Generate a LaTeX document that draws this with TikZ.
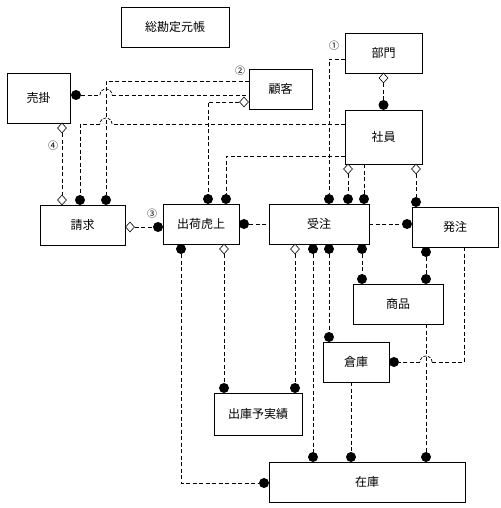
\documentclass[tikz,border=0pt]{standalone}
\usepackage{fontspec}
\setmainfont{Noto Sans CJK JP}
\usetikzlibrary{shapes.geometric}
\begin{document}
\begin{tikzpicture}[x=1pt,y=-1pt,
  ent/.style={draw, line width=0.8pt, inner sep=0pt, font=\fontsize{12}{14}\selectfont},
  conn/.style={dash pattern=on 4pt off 2.5pt, line width=0.7pt},
  hop/.style={line width=0.7pt, dash pattern=on 3pt off 1.5pt},
  dot/.style={circle, fill=black, inner sep=0pt, minimum size=10pt},
  dia/.style={diamond, draw, fill=white, inner sep=0pt, minimum width=9pt, minimum height=10pt, line width=0.6pt},
  num/.style={font=\fontsize{10}{11}\selectfont, inner sep=0pt}]
\useasboundingbox (0,0) rectangle (500,508);

% entities
\node[ent, minimum width=108pt, minimum height=40pt] (gl) at (175,27) {総勘定元帳};
\node[ent, minimum width=63pt, minimum height=50pt] (uk) at (38.5,98) {売掛};
\node[ent, minimum width=63pt, minimum height=40pt] (kk) at (280.5,89) {顧客};
\node[ent, minimum width=77pt, minimum height=40pt] (bm) at (383.5,53) {部門};
\node[ent, minimum width=77pt, minimum height=54pt] (sh) at (383.5,137) {社員};
\node[ent, minimum width=85pt, minimum height=40pt] (sk) at (82.5,225) {請求};
\node[ent, minimum width=76pt, minimum height=40pt] (su) at (201,224) {出荷虎上};
\node[ent, minimum width=100pt, minimum height=40pt] (ju) at (319,224) {受注};
\node[ent, minimum width=86pt, minimum height=40pt] (ha) at (455,227) {発注};
\node[ent, minimum width=90pt, minimum height=40pt] (sp) at (398,304) {商品};
\node[ent, minimum width=66pt, minimum height=40pt] (so) at (356,362) {倉庫};
\node[ent, minimum width=88pt, minimum height=42pt] (yj) at (258,414) {出庫予実績};
\node[ent, minimum width=196pt, minimum height=40pt] (zk) at (367,482) {在庫};

% labels
\node[num] (n1) at (334,46) {①};
\node[num] (n2) at (240,71) {②};
\node[num] (n3) at (152,214) {③};
\node[num] (n4) at (53,146) {④};

% free ends
\coordinate (bmL) at (345,59);
\coordinate (kkA) at (249,81);
\coordinate (kkB) at (249,95);
\coordinate (shA) at (345,124);
\coordinate (shB) at (345,156);
\coordinate (shC) at (364,164);
\coordinate (juR) at (369,224);
\coordinate (haB) at (464,247);
\coordinate (spB) at (426,324);
\coordinate (soB) at (351,382);
\coordinate (hopA1) at (100,95);
\coordinate (hopA2) at (112,95);
\coordinate (hopB1) at (112,124);
\coordinate (hopB2) at (100,124);
\coordinate (hopC1) at (432,362);
\coordinate (hopC2) at (420,362);

% symbols
\node[dia] (bmD) at (383.5,78) {};
\node[dot] (shT) at (383.5,105) {};
\node[dot] (juT1) at (329,199) {};
\node[dot] (juT2) at (348,199) {};
\node[dot] (juT3) at (364,199) {};
\node[dia] (shD1) at (348,169) {};
\node[dia] (shD2) at (416,169) {};
\node[dot] (haT) at (416,202) {};
\node[dot] (ukR) at (76,95) {};
\node[dia] (ukD) at (62,128) {};
\node[dia] (kkD) at (244,102) {};
\node[dia] (skT1) at (62,200) {};
\node[dot] (skT2) at (80,200) {};
\node[dot] (skT3) at (106,200) {};
\node[dot] (suT1) at (208,199) {};
\node[dot] (suT2) at (226,199) {};
\node[dia] (skR) at (130,227) {};
\node[dot] (suL) at (158,227) {};
\node[dot] (suRd) at (244,224) {};
\node[dot] (haL) at (407,224) {};
\node[dot] (suB1) at (181,249) {};
\node[dia] (suB2) at (224,249) {};
\node[dia] (juB1) at (295,249) {};
\node[dot] (juB2) at (313,249) {};
\node[dot] (juB3) at (329,249) {};
\node[dot] (juB4) at (362,249) {};
\node[dot] (haB1) at (426,252) {};
\node[dot] (spT1) at (362,279) {};
\node[dot] (spT2) at (426,279) {};
\node[dot] (soT) at (329,337) {};
\node[dot] (soR) at (394,362) {};
\node[dot] (yjT1) at (224,388) {};
\node[dot] (yjT2) at (295,388) {};
\node[dot] (zkT1) at (313,457) {};
\node[dot] (zkT2) at (351,457) {};
\node[dot] (zkT3) at (426,457) {};
\node[dot] (zkL) at (264,483) {};

% connectors
\draw[conn] (bmD) -- (shT);
\draw[conn] (bmL) -| (juT1);
\draw[conn] (kkA) -| (skT3);
\draw[conn] (ukR) -- (hopA1);
\draw[hop] (hopA1) arc[start angle=180,end angle=0,radius=6pt];
\draw[conn] (hopA2) -- (kkB);
\draw[conn] (kkD) -| (suT1);
\draw[conn] (ukD) -- (skT1);
\draw[conn] (shA) -- (hopB1);
\draw[hop] (hopB1) arc[start angle=0,end angle=180,radius=6pt];
\draw[conn] (hopB2) -- (skT2 |- shA) -- (skT2);
\draw[conn] (shB) -| (suT2);
\draw[conn] (skR) -- (suL);
\draw[conn] (suRd) -- (ju.west |- suRd);
\draw[conn] (juR) -- (haL);
\draw[conn] (shD1) -- (juT2);
\draw[conn] (shC) -- (juT3);
\draw[conn] (shD2) -- (haT);
\draw[conn] (suB1) |- (zkL);
\draw[conn] (suB2) -- (yjT1);
\draw[conn] (juB1) -- (yjT2);
\draw[conn] (juB2) -- (zkT1);
\draw[conn] (juB3) -- (soT);
\draw[conn] (juB4) -- (spT1);
\draw[conn] (haB1) -- (spT2);
\draw[conn] (haB) -- (haB |- soR) -- (hopC1);
\draw[hop] (hopC1) arc[start angle=0,end angle=180,radius=6pt];
\draw[conn] (hopC2) -- (soR);
\draw[conn] (spB) -- (zkT3);
\draw[conn] (soB) -- (zkT2);
\end{tikzpicture}
\end{document}
